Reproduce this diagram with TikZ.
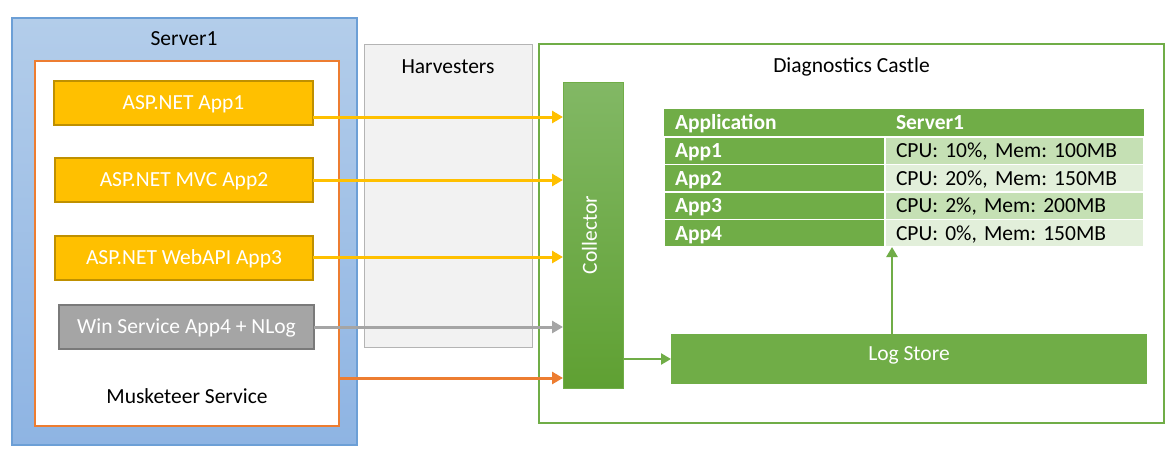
\documentclass[tikz,border=0pt]{standalone}
\usepackage{fontspec}
\setmainfont{Carlito}
\usetikzlibrary{arrows.meta,calc}
\frenchspacing
\definecolor{srvtop}{HTML}{B3CDEA}
\definecolor{srvbot}{HTML}{8EB4E3}
\definecolor{srvline}{HTML}{6C9FD6}
\definecolor{orng}{HTML}{ED7D31}
\definecolor{gold}{HTML}{FFC000}
\definecolor{goldline}{HTML}{BF9000}
\definecolor{gry}{HTML}{A5A5A5}
\definecolor{gryline}{HTML}{7A7A7A}
\definecolor{harvfill}{HTML}{F2F2F2}
\definecolor{harvline}{HTML}{B4B4B4}
\definecolor{grn}{HTML}{70AD47}
\definecolor{coltop}{HTML}{82B865}
\definecolor{colbot}{HTML}{5FA032}
\definecolor{cellA}{HTML}{C5E0B4}
\definecolor{cellB}{HTML}{E2EFDA}
\begin{document}
\frenchspacing
\begin{tikzpicture}[x=1pt,y=-1pt,
  font=\fontsize{21.5}{26}\selectfont\frenchspacing,
  every node/.style={inner sep=0pt, outer sep=0pt, text height=13.9pt, text depth=0pt},
  boxnw/.style={anchor=north west},
  serverbox/.style={boxnw, draw=srvline, line width=1.2pt, top color=srvtop, bottom color=srvbot},
  muskbox/.style={boxnw, draw=orng, line width=2.5pt, fill=white},
  appbox/.style={boxnw, draw=goldline, fill=gold, line width=2.5pt, text=white, minimum height=44},
  graybox/.style={boxnw, draw=gryline, fill=gry, line width=2.5pt, text=white, minimum height=44},
  harvbox/.style={boxnw, draw=harvline, fill=harvfill, line width=1pt},
  castlebox/.style={boxnw, draw=grn, line width=2pt, fill=white},
  collbox/.style={boxnw, draw=grn, line width=1pt, top color=coltop, bottom color=colbot},
  storebox/.style={boxnw, fill=grn, text=white},
  hcell/.style={boxnw, fill=grn, text=white, font=\fontsize{21.5}{26}\selectfont\bfseries, minimum height=28, inner xsep=11pt, align=left},
  lcell/.style={boxnw, fill=grn, draw=white, line width=1.2pt, text=white, font=\fontsize{21.5}{26}\selectfont\bfseries, minimum height=27.5, text width=199pt, inner xsep=11pt, align=left},
  rcell/.style={boxnw, draw=white, line width=1.2pt, text=black, minimum height=27.5, text width=237pt, inner xsep=11pt, align=left},
  arr/.style={line width=3pt, -{Triangle[length=11pt,width=12pt]}},
  garr/.style={line width=2.5pt, draw=grn, -{Triangle[length=10pt,width=11pt]}}
]
\useasboundingbox (0,0) rectangle (1173,455);

% Server1
\node[serverbox, minimum width=345, minimum height=427] (server) at (12,18) {};
\node (servertitle) at (184,39) {Server1};
\node[muskbox, minimum width=304, minimum height=365] (musk) at (35,61) {};
\node (musktitle) at (187,397) {Musketeer Service};

\node[appbox, minimum width=259] (app1) at (54,81) {ASP.NET App1};
\node[appbox, minimum width=258] (app2) at (55,158) {ASP.NET MVC App2};
\node[appbox, minimum width=258] (app3) at (55,236) {ASP.NET WebAPI App3};
\node[graybox, minimum width=255] (app4) at (59,305) {Win Service App4 + NLog};

% Harvesters
\node[harvbox, minimum width=168, minimum height=303] (harv) at (364,44) {};
\node (harvtitle) at (448,67) {Harvesters};

% Diagnostics Castle
\node[castlebox, minimum width=625, minimum height=379] (castle) at (539,44) {};
\node (castletitle) at (851.5,66) {Diagnostics Castle};

\node[collbox, minimum width=60, minimum height=306] (coll) at (563,82) {};
\node[rotate=90, text=white] (colltext) at ([xshift=-3pt]coll.center) {Collector};

\node[storebox, minimum width=476, minimum height=50, text depth=10pt] (store) at (671,334) {Log Store};

% Table
\node[hcell, minimum width=221, text width=199pt] (h1) at (664,109) {Application};
\node[hcell, minimum width=259, text width=237pt] (h2) at (885,109) {Server1};
\node[lcell] (r1a) at (664,137) {App1};
\node[rcell, fill=cellA] (r1b) at (885,137) {CPU: 10\%, Mem: 100MB};
\node[lcell] (r2a) at (664,164.5) {App2};
\node[rcell, fill=cellB] (r2b) at (885,164.5) {CPU: 20\%, Mem: 150MB};
\node[lcell] (r3a) at (664,192) {App3};
\node[rcell, fill=cellA] (r3b) at (885,192) {CPU: 2\%, Mem: 200MB};
\node[lcell] (r4a) at (664,219.5) {App4};
\node[rcell, fill=cellB] (r4b) at (885,219.5) {CPU: 0\%, Mem: 150MB};

% Connectors
\draw[arr, draw=gold] ([yshift=8pt]app1.south east) coordinate (s1) -- (s1 -| coll.west);
\draw[arr, draw=gold] (app2.east) -- (app2.east -| coll.west);
\draw[arr, draw=gold] ([yshift=1pt]app3.east) coordinate (s3) -- (s3 -| coll.west);
\draw[arr, draw=gry] (app4.east) -- (app4.east -| coll.west);
\draw[arr, draw=orng] ([yshift=-134.5pt]musk.east) coordinate (s5) -- (s5 -| coll.west);
\draw[garr] (store.west -| coll.east) -- (store.west);
\coordinate (up) at ([xshift=-17pt]store.north);
\draw[garr] (up) -- (up |- r4b.south);
\end{tikzpicture}
\end{document}
